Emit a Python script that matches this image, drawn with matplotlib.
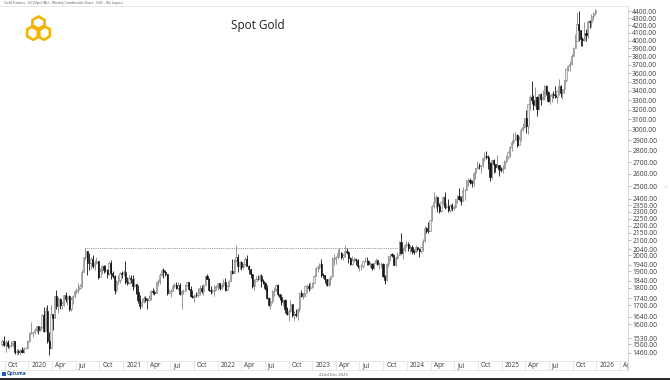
import numpy as np
import pandas as pd
import matplotlib
matplotlib.use("Agg")
import matplotlib.pyplot as plt
import matplotlib.dates as mdates
import matplotlib.transforms as mtransforms
from matplotlib.patches import Rectangle, RegularPolygon
from matplotlib.lines import Line2D
from matplotlib.ticker import FixedLocator, FixedFormatter, NullLocator
from matplotlib.transforms import Bbox

plt.rcParams['font.family'] = ['Open Sans', 'DejaVu Sans']

# ---------------- data (weekly candles, week starting Monday) ----------------
first_week = '2019-09-16'
first_open = 1499

closes = [
    1515,1497,1512,1493,1494,1505,1514,1462,1468,1463,1473,1465,1481,1482,1515,1553,
    1560,1560,1572,1589,1573,1586,1649,1566,1670,1516,1484,1654,1633,1752,1698,1735,1700,1713,1756,1735,1751,1683,1737,1753,1780,1790,1801,1810,1897,1985,2028,1949,1947,1975,1934,1947,1962,1866,1900,1930,1906,1905,1879,1951,1886,1872,1788,1840,1843,1889,1883,1895,
    1835,1830,1856,1850,1813,1824,1777,1729,1698,1720,1744,1732,1729,1744,1780,1777,1768,1832,1838,1877,1905,1892,1879,1769,1781,1784,1811,1815,1801,1817,1763,1780,1784,1819,1833,1792,1753,1750,1760,1757,1768,1796,1784,1818,1868,1852,1788,1784,1784,1805,1811,1829,
    1797,1817,1832,1785,1808,1842,1900,1889,1970,1986,1929,1958,1924,1945,1975,1934,1911,1883,1808,1842,1852,1850,1871,1840,1828,1801,1742,1703,1727,1781,1791,1815,1762,1749,1720,1728,1683,1655,1672,1709,1648,1656,1648,1681,1771,1754,1768,1809,1810,1800,1804,1826,
    1869,1921,1928,1945,1876,1874,1850,1817,1854,1867,1973,1983,1986,2011,2015,1990,1999,2025,2019,1981,1944,1969,1977,1971,1929,1929,1932,1961,1965,1960,1946,1946,1916,1947,1966,1942,1945,1945,1870,1845,1941,1994,2006,1999,1938,1980,2003,2089,2014,2036,2069,2071,
    2049,2051,2029,2018,2054,2038,2024,2051,2096,2186,2161,2159,2238,2345,2374,2413,2347,2309,2375,2417,2335,2347,2311,2349,2332,2339,2397,2421,2399,2385,2470,2472,2546,2546,2536,2524,2611,2646,2668,2667,2676,2736,2755,2750,2694,2571,2716,2681,2657,2675,2645,2635,2654,
    2715,2748,2791,2835,2886,2900,2953,2858,2914,3001,3024,3114,3036,3254,3328,3298,3244,3336,3205,3365,3316,3331,3453,3386,3287,3343,3365,3359,3337,3400,3458,3382,3418,3516,3653,3680,3705,3809,3909,4000,4213,4137,4014,4010,4094,4078,4254,4243,4330,4368,4420,
]
highs = [
    1525,1540,1520,1520,1500,1518,1519,1515,1475,1478,1475,1485,1487,1487,1520,1555,
    1612,1563,1582,1592,1590,1590,1652,1691,1693,1705,1560,1700,1650,1755,1790,1750,1740,1725,1760,1775,1752,1760,1750,1760,1790,1800,1828,1820,1905,1990,2048,2020,2015,1990,2000,1972,1990,1960,1918,1935,1935,1935,1915,1965,1966,1900,1875,1845,1875,1895,1900,1905,
    1960,1865,1875,1875,1875,1855,1825,1815,1760,1740,1755,1755,1740,1760,1785,1800,1790,1835,1850,1890,1915,1920,1905,1880,1795,1795,1820,1830,1835,1835,1830,1785,1795,1825,1835,1835,1810,1790,1765,1775,1800,1815,1815,1825,1870,1880,1855,1810,1795,1815,1815,1830,
    1830,1830,1850,1855,1815,1845,1905,1975,1975,2066,2010,1965,1965,1950,1990,2000,1935,1910,1885,1850,1870,1875,1880,1880,1850,1835,1815,1745,1740,1785,1805,1825,1825,1765,1765,1735,1735,1690,1680,1730,1705,1670,1680,1685,1775,1790,1770,1815,1820,1830,1835,1835,
    1875,1925,1940,1950,1975,1890,1875,1850,1860,1870,1990,2010,1995,2040,2050,2020,2010,2066,2045,2025,1985,1995,1985,1980,1975,1935,1945,1965,1990,1985,1970,1955,1950,1955,1980,1965,1955,1955,1950,1875,1950,1995,2010,2015,1995,1995,2020,2095,2150,2055,2075,2095,
    2085,2065,2065,2040,2070,2055,2045,2055,2105,2200,2190,2225,2240,2350,2450,2430,2400,2370,2380,2425,2455,2370,2395,2360,2370,2350,2400,2430,2485,2420,2490,2480,2550,2570,2565,2550,2615,2650,2710,2690,2680,2740,2790,2800,2760,2705,2720,2730,2680,2760,2680,2660,2675,
    2720,2760,2800,2850,2900,2970,2975,2960,2935,3015,3065,3115,3200,3260,3360,3510,3350,3440,3345,3370,3380,3410,3470,3460,3400,3370,3380,3395,3450,3410,3535,3460,3425,3520,3660,3700,3745,3830,3920,4080,4390,4400,4060,4050,4245,4150,4265,4280,4355,4390,4430,
]
lows = [
    1490,1490,1465,1480,1478,1485,1485,1455,1448,1455,1450,1460,1460,1475,1480,1510,
    1548,1536,1550,1560,1548,1566,1583,1562,1580,1505,1450,1480,1570,1640,1680,1660,1680,1680,1695,1720,1700,1670,1670,1710,1740,1765,1770,1795,1805,1892,1970,1875,1905,1910,1920,1906,1945,1850,1865,1880,1890,1895,1860,1875,1850,1860,1765,1775,1820,1830,1860,1870,
    1820,1815,1825,1830,1785,1805,1765,1715,1680,1690,1715,1720,1680,1725,1730,1765,1760,1770,1810,1825,1870,1855,1870,1760,1765,1750,1780,1800,1795,1790,1760,1680,1765,1780,1810,1785,1745,1740,1720,1745,1750,1760,1770,1760,1815,1850,1780,1765,1770,1755,1790,1790,
    1785,1795,1805,1780,1785,1805,1840,1880,1890,1955,1895,1910,1905,1915,1940,1930,1880,1855,1800,1790,1840,1845,1840,1805,1820,1785,1735,1695,1680,1715,1755,1780,1755,1730,1700,1695,1660,1650,1615,1665,1640,1620,1640,1620,1665,1745,1735,1745,1770,1780,1785,1800,
    1830,1870,1895,1915,1865,1855,1830,1810,1810,1815,1865,1935,1945,1975,1990,1975,1970,1990,2005,1950,1935,1935,1955,1935,1920,1900,1905,1920,1955,1940,1935,1925,1905,1915,1945,1935,1915,1920,1865,1825,1840,1925,1965,1985,1935,1930,1975,2005,2005,1975,2020,2055,
    2030,2015,2005,2010,2025,2025,1985,2015,2030,2090,2150,2150,2160,2230,2330,2330,2300,2290,2300,2350,2320,2330,2300,2300,2310,2315,2330,2370,2390,2355,2380,2390,2465,2500,2520,2490,2500,2560,2640,2640,2610,2655,2715,2730,2645,2540,2560,2610,2620,2650,2585,2615,2605,
    2640,2690,2725,2750,2800,2865,2900,2840,2860,2895,2990,3020,2970,2960,3200,3260,3200,3240,3130,3200,3250,3300,3300,3350,3280,3260,3280,3320,3325,3270,3350,3335,3315,3380,3500,3620,3630,3700,3800,3900,4010,4000,3930,3930,4000,4000,4035,4160,4180,4280,4340,
]

price_ticks = [4400, 4300, 4200, 4100, 4000, 3900, 3800, 3700, 3600, 3500, 3400, 3300,
               3200, 3100, 3000, 2900, 2800, 2700, 2600, 2500, 2400, 2350, 2300, 2250,
               2200, 2150, 2100, 2040, 2000, 1940, 1900, 1840, 1800, 1740, 1700, 1640,
               1600, 1530, 1500, 1460]
month_ticks = ['2019-10-01', '2020-01-01', '2020-04-01', '2020-07-01', '2020-10-01',
               '2021-01-01', '2021-04-01', '2021-07-01', '2021-10-01', '2022-01-01',
               '2022-04-01', '2022-07-01', '2022-10-01', '2023-01-01', '2023-04-01',
               '2023-07-01', '2023-10-01', '2024-01-01', '2024-04-01', '2024-07-01',
               '2024-10-01', '2025-01-01', '2025-04-01', '2025-07-01', '2025-10-01',
               '2026-01-01', '2026-04-01']
month_labels = ['Oct', '2020', 'Apr', 'Jul', 'Oct', '2021', 'Apr', 'Jul', 'Oct', '2022',
                'Apr', 'Jul', 'Oct', '2023', 'Apr', 'Jul', 'Oct', '2024', 'Apr', 'Jul',
                'Oct', '2025', 'Apr', 'Jul', 'Oct', '2026', 'Apr']

resistance_level = 2048
resistance_start = '2020-08-07'
resistance_end = '2023-12-08'

x_start, x_end = '2019-09-13', '2026-05-03'
y_low, y_high = 1421, 4472

# ---------------- figure ----------------
W, H = 670, 380
fig = plt.figure(figsize=(W / 100, H / 100), dpi=100)
fig.patch.set_facecolor('white')

ax_top, ax_bot, ax_right = 6, 361, 628
ax = fig.add_axes([0, (H - ax_bot) / H, ax_right / W, (ax_bot - ax_top) / H])
ax.set_facecolor('white')

n = min(len(closes), len(highs), len(lows))
c = np.array(closes[:n], dtype=float)
o = np.concatenate([[first_open], c[:-1]])
h = np.array(highs[:n], dtype=float)
l = np.array(lows[:n], dtype=float)
h = np.maximum(h, np.maximum(o, c))
l = np.minimum(l, np.minimum(o, c))

dates = pd.date_range(first_week, periods=n, freq='7D') + pd.Timedelta(days=5)
x = mdates.date2num(dates.to_pydatetime())

up = c >= o
up_edge = '#858585'
dn_col = '#111111'

# wicks
ax.vlines(x[up], l[up], h[up], color=up_edge, lw=0.6, zorder=2)
ax.vlines(x[~up], l[~up], h[~up], color=dn_col, lw=0.6, zorder=2)
# bodies
body_w = 4.6
bot = np.minimum(o, c)
ht = np.maximum(np.abs(c - o), 1.5)
ax.bar(x[up], ht[up], bottom=bot[up], width=body_w, color='#eeeeee',
       edgecolor=up_edge, linewidth=0.45, zorder=3)
ax.bar(x[~up], ht[~up], bottom=bot[~up], width=body_w, color=dn_col,
       edgecolor=dn_col, linewidth=0.45, zorder=3)

# dotted resistance line
ax.hlines(resistance_level, mdates.datestr2num(resistance_start),
          mdates.datestr2num(resistance_end), colors='#6f7f90',
          linestyles=(0, (1, 1.2)), lw=0.6, zorder=1)

ax.set_yscale('log')
ax.set_ylim(y_low, y_high)
ax.set_xlim(mdates.datestr2num(x_start), mdates.datestr2num(x_end))

ax.yaxis.tick_right()
ax.yaxis.set_major_locator(FixedLocator(price_ticks))
ax.yaxis.set_major_formatter(FixedFormatter([f'{v:.2f}' for v in price_ticks]))
ax.yaxis.set_minor_locator(NullLocator())
ax.tick_params(axis='y', length=2, width=0.5, color='#9a9a9a', labelsize=4.9,
               labelcolor='#3a3a3a', pad=1)
ax.set_xticks([])

ax.spines['left'].set_visible(False)
ax.spines['top'].set_color('#e4e4e4')
ax.spines['bottom'].set_color('#e4e4e4')
ax.spines['right'].set_color('#d0d0d0')
for s in ['top', 'bottom', 'right']:
    ax.spines[s].set_linewidth(0.6)

# x-axis strip with separators and labels
trans = mtransforms.blended_transform_factory(ax.transData, ax.transAxes)
strip_h = 9 / (ax_bot - ax_top)
clipbb = Bbox.from_extents(0, 0, ax_right, H)
for d, lab in zip(month_ticks, month_labels):
    xd = mdates.datestr2num(d)
    ln = Line2D([xd, xd], [0, -strip_h], transform=trans, color='#e2e2e2',
                lw=0.6, clip_on=False)
    ax.add_line(ln)
    t = ax.text(xd, -strip_h / 2, lab,
                transform=mtransforms.offset_copy(trans, fig=fig, x=3, y=0, units='dots'),
                ha='left', va='center', fontsize=4.7, color='#3a3a3a')
    t.set_clip_box(clipbb)
    t.set_clip_on(True)
ax.add_line(Line2D([0, 1], [-strip_h, -strip_h], transform=ax.transAxes,
                   color='#e2e2e2', lw=0.6, clip_on=False))
ax.add_line(Line2D([1, 1], [0, -strip_h], transform=ax.transAxes,
                   color='#d0d0d0', lw=0.6, clip_on=False))

# ---------------- overlay decorations (figure pixels) ----------------
ov = fig.add_axes([0, 0, 1, 1], zorder=5)
ov.set_xlim(0, W)
ov.set_ylim(H, 0)
ov.axis('off')
ov.patch.set_alpha(0)

ov.text(4, 3.2, 'Gold Futures - GC20pct (NL) - Weekly Candlestick Chart - USD - No Layout',
        fontsize=2.5, color='#555555', va='center', ha='left')
ov.text(258, 25, 'Spot Gold', fontsize=8.5, color='#1e1e1e', ha='center', va='center')

gold = '#F2B400'
for cx, cy in [(38.5, 23.5), (33.2, 32.8), (43.8, 32.8)]:
    ov.add_patch(RegularPolygon((cx, cy), numVertices=6, radius=7.0,
                                facecolor='none', edgecolor=gold, lw=1.9,
                                joinstyle='round'))

ov.add_patch(Rectangle((1.5, 371.5), 4.5, 4.5, facecolor='#1d5fa8', edgecolor='none'))
ov.text(7, 374, 'Optuma', fontsize=3.4, color='#1d4f8c', ha='left', va='center',
        fontweight='bold')
ov.text(333, 375.5, '22nd Dec 2025', fontsize=3.0, color='#555555', ha='center', va='center')
ov.text(666, 186.5, '<', fontsize=3.2, color='#888888', ha='center', va='center')
ov.add_patch(Rectangle((0, 378), W, 2, facecolor='#2a2a2a', edgecolor='none'))

fig.savefig('out.png', dpi=100, facecolor='white')
